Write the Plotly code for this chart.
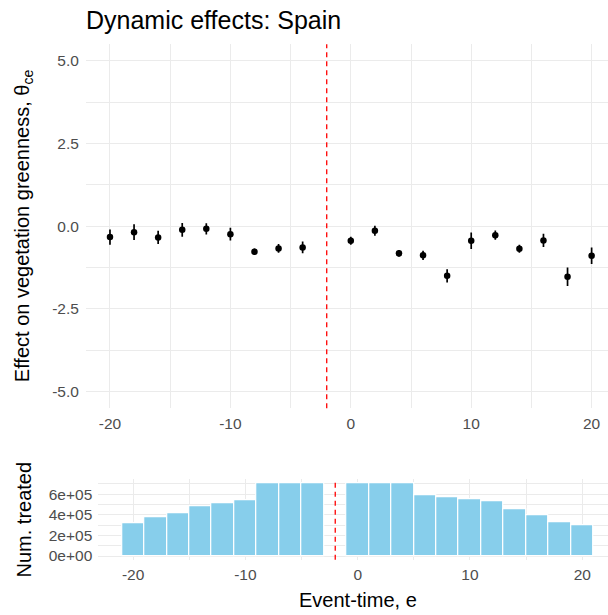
import plotly.graph_objects as go

# Event-study estimates (effect on vegetation greenness) by event time
event_time = [-20, -18, -16, -14, -12, -10, -8, -6, -4,
              0, 2, 4, 6, 8, 10, 12, 14, 16, 18, 20]
effect = [-0.33, -0.18, -0.34, -0.11, -0.08, -0.24, -0.77, -0.67, -0.64,
          -0.44, -0.14, -0.82, -0.88, -1.50, -0.44, -0.27, -0.68, -0.43, -1.53, -0.89]
ci_half = [0.23, 0.24, 0.20, 0.21, 0.17, 0.19, 0.10, 0.13, 0.18,
           0.12, 0.15, 0.10, 0.14, 0.20, 0.25, 0.14, 0.12, 0.20, 0.28, 0.25]

# Number of treated units per event time
num_treated = [3.18e5, 3.79e5, 4.18e5, 4.79e5, 5.08e5, 5.44e5, 7.1e5, 7.1e5, 7.1e5,
               7.1e5, 7.1e5, 7.1e5, 5.86e5, 5.70e5, 5.47e5, 5.34e5, 4.57e5, 3.96e5, 3.30e5, 2.94e5]

reference_period = -2

x_ticks = [-20, -10, 0, 10, 20]
x_ticktext = ["-20", "-10", "0", "10", "20"]
effect_ticks = [-5, -2.5, 0, 2.5, 5]
effect_ticktext = ["-5.0", "-2.5", "0.0", "2.5", "5.0"]
count_ticks = [0, 2e5, 4e5, 6e5]
count_ticktext = ["0e+00", "2e+05", "4e+05", "6e+05"]

W, H = 608, 615
FONT = "Liberation Sans, Arial, sans-serif"
GRID = "#EBEBEB"
TICK_COLOR = "#4D4D4D"
BAR_FILL = "#87CEEB"


def fx(p):
    return p / W


def fy(p):
    return 1 - p / H


fig = go.Figure()

fig.add_trace(go.Scatter(
    x=event_time, y=effect, mode="markers",
    marker=dict(color="black", size=6.5),
    error_y=dict(type="data", array=ci_half, visible=True,
                 color="black", thickness=1.7, width=0),
    xaxis="x", yaxis="y", showlegend=False,
))

fig.add_trace(go.Bar(
    x=event_time, y=num_treated, width=[2] * len(event_time),
    marker=dict(color=BAR_FILL, line=dict(color="white", width=1.2)),
    xaxis="x2", yaxis="y2", showlegend=False,
))

axis_common = dict(
    showline=False, zeroline=False, ticks="", showgrid=True,
    gridcolor=GRID, gridwidth=1.2,
    tickfont=dict(family=FONT, size=15.5, color=TICK_COLOR),
)

fig.update_layout(
    width=W, height=H,
    margin=dict(l=0, r=0, t=0, b=0),
    paper_bgcolor="white", plot_bgcolor="white",
    template="none",
    bargap=0,
    xaxis=dict(
        domain=[fx(85.9), 1], range=[-22, 21.36],
        tickvals=x_ticks, ticktext=x_ticktext, anchor="y",
        minor=dict(dtick=5, tick0=0, showgrid=True, gridcolor=GRID, gridwidth=0.7),
        ticklabelstandoff=4,
        **axis_common,
    ),
    yaxis=dict(
        domain=[fy(408.25), fy(44.15)], range=[-5.5, 5.5],
        tickvals=effect_ticks, ticktext=effect_ticktext, anchor="x",
        minor=dict(dtick=1.25, tick0=0, showgrid=True, gridcolor=GRID, gridwidth=0.7),
        ticklabelstandoff=6,
        **axis_common,
    ),
    xaxis2=dict(
        domain=[fx(98.3), 1], range=[-23.1, 22.29],
        tickvals=x_ticks, ticktext=x_ticktext, anchor="y2",
        minor=dict(dtick=5, tick0=0, showgrid=True, gridcolor=GRID, gridwidth=0.7),
        ticklabelstandoff=4,
        **axis_common,
    ),
    yaxis2=dict(
        domain=[fy(559.7), fy(479.3)], range=[-3.55e4, 7.455e5],
        tickvals=count_ticks, ticktext=count_ticktext, anchor="x2",
        minor=dict(dtick=1e5, tick0=0, showgrid=True, gridcolor=GRID, gridwidth=0.7),
        ticklabelstandoff=5,
        **axis_common,
    ),
)

# Reference period marker in both panels
for xr, yr in (("x", "y domain"), ("x2", "y2 domain")):
    fig.add_shape(type="line", xref=xr, yref=yr,
                  x0=reference_period, x1=reference_period, y0=0, y1=1,
                  line=dict(color="#FF0000", width=1.3, dash="5px,4px"))

fig.add_annotation(text="Dynamic effects: Spain", xref="paper", yref="paper",
                   x=fx(84), y=fy(20.5), xanchor="left", yanchor="middle",
                   showarrow=False, font=dict(family=FONT, size=25, color="black"))
fig.add_annotation(text="Effect on vegetation greenness, θ<sub>ce</sub>",
                   xref="paper", yref="paper", x=fx(23), y=fy(226.2),
                   xanchor="center", yanchor="middle", textangle=-90,
                   showarrow=False, font=dict(family=FONT, size=20, color="black"))
fig.add_annotation(text="Num. treated", xref="paper", yref="paper",
                   x=fx(23), y=fy(519.5), xanchor="center", yanchor="middle",
                   textangle=-90, showarrow=False,
                   font=dict(family=FONT, size=20, color="black"))
fig.add_annotation(text="Event-time, e", xref="paper", yref="paper",
                   x=fx(357.6), y=fy(600), xanchor="center", yanchor="middle",
                   showarrow=False, font=dict(family=FONT, size=20, color="black"))

fig.write_html("out.html")
